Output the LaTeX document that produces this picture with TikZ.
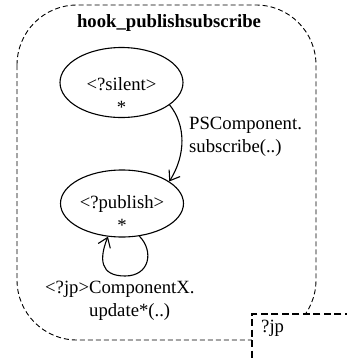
\documentclass[tikz,border=0pt]{standalone}
\usepackage{fontspec}
\setmainfont{Liberation Serif}
\usetikzlibrary{shapes.geometric,arrows.meta}
\begin{document}
\begin{tikzpicture}[x=1pt,y=-1pt,
  every node/.style={font=\fontsize{18.7}{23}\selectfont, inner sep=0pt},
  state/.style={draw, ellipse, line width=1.1pt, minimum width=123pt, minimum height=70pt},
  trans/.style={line width=1.1pt, -{Straight Barb[length=9pt,width=13pt,line width=1.1pt]}},
  outerdash/.style={line width=0.9pt, dash pattern=on 5pt off 3pt},
  boxdash/.style={line width=1.6pt, dash pattern=on 7pt off 3.5pt}]
\useasboundingbox (0,0) rectangle (347,360);
\draw[outerdash, rounded corners=60pt] (17,5) rectangle (316,340);
\fill[white] (252,314) rectangle (350,365);
\node[font=\fontsize{18.7}{23}\selectfont\bfseries] (title) at (169,23) {hook\_publishsubscribe};
\node[state] (s) at (121.5,82.5) {};
\node[align=center] (stxt) at (121.5,96) {<?silent>\\*};
\node[state, minimum height=67pt] (p) at (122,203.5) {};
\node[align=center] (ptxt) at (122,214) {<?publish>\\*};
\draw[trans] (s.-25) .. controls (186,125) and (186,155) .. (p.25);
\node[align=left, anchor=west] (lab1) at (189,137) {PSComponent.\\subscribe(..)};
\draw[trans] (p.-62) .. controls (154,251) and (150,276) .. (125,276) .. controls (100,276) and (99,259) .. (p.-113);
\node[align=left, anchor=west] (lab2) at (45,300.5) {<?jp>ComponentX.\\\hspace*{44pt}update*(..)};
\coordinate (bx1) at (352,314);
\coordinate (bx2) at (252,365);
\draw[boxdash] (bx1) -| (bx2);
\node[anchor=west] (jp) at (261,328) {?jp};
\end{tikzpicture}
\end{document}
